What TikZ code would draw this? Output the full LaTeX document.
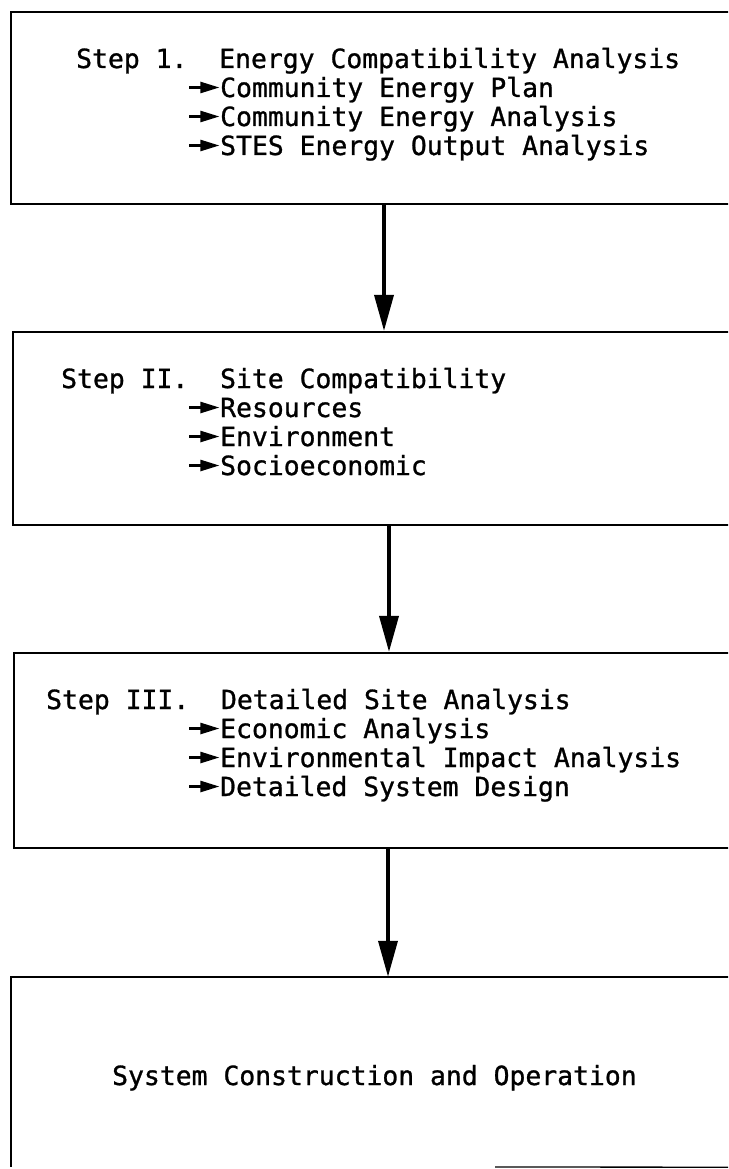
\documentclass[tikz,border=0pt]{standalone}
\usepackage{fontspec}
\newfontfamily\tw[FakeBold=1]{DejaVu Sans Mono}
\usetikzlibrary{arrows.meta}
\newcommand{\bul}{\makebox[32pt][l]{\tikz[baseline=0pt]\draw[line width=2.4pt,-{Triangle[length=19pt,width=11pt]}] (0pt,9.5pt) -- (30pt,9.5pt);}}
\begin{document}
\begin{tikzpicture}[x=1pt,y=-1pt,
  boxline/.style={draw,line width=2.2pt},
  flow/.style={line width=3.6pt,-{Triangle[length=36pt,width=19pt]}},
  txt/.style={anchor=base west,inner sep=0pt,font=\tw\fontsize{26.4}{30}\selectfont}]
\useasboundingbox (0,0) rectangle (728,1169);
\clip (0,0) rectangle (728,1169);
% boxes
\node[boxline,minimum width=731pt,minimum height=192pt,inner sep=0pt] (b1) at (376.5,108) {};
\node[boxline,minimum width=729pt,minimum height=193pt,inner sep=0pt] (b2) at (377.5,428.5) {};
\node[boxline,minimum width=728pt,minimum height=195pt,inner sep=0pt] (b3) at (378,750.5) {};
\node[minimum width=731pt,minimum height=190pt,inner sep=0pt] (b4) at (376.5,1072) {};
\draw[line width=2.2pt] (b4.north east) -- (b4.north west) -- (b4.south west);
\coordinate (e4) at (495,1167);
\draw[line width=1.3pt] (e4) -- (b4.south east);
% box 1 text
\node[txt] (t1) at (76,68) {Step 1.~~Energy Compatibility Analysis};
\node[txt] (t1a) at (188,97) {\bul Community Energy Plan};
\node[txt] (t1b) at (188,126) {\bul Community Energy Analysis};
\node[txt] (t1c) at (188,155) {\bul STES Energy Output Analysis};
% box 2 text
\node[txt] (t2) at (61,388) {Step II.~~Site Compatibility};
\node[txt] (t2a) at (188,417) {\bul Resources};
\node[txt] (t2b) at (188,446) {\bul Environment};
\node[txt] (t2c) at (188,475) {\bul Socioeconomic};
% box 3 text
\node[txt] (t3) at (46,709) {Step III.~~Detailed Site Analysis};
\node[txt] (t3a) at (188,738) {\bul Economic Analysis};
\node[txt] (t3b) at (188,767) {\bul Environmental Impact Analysis};
\node[txt] (t3c) at (188,796) {\bul Detailed System Design};
% box 4 text
\node[txt] (t4) at (112,1085) {System Construction and Operation};
% connectors
\coordinate (c1) at (384,0);
\coordinate (c2) at (389,0);
\coordinate (c3) at (388,0);
\draw[flow] (b1.south -| c1) -- (b2.north -| c1);
\draw[flow] (b2.south -| c2) -- (b3.north -| c2);
\draw[flow] (b3.south -| c3) -- (b4.north -| c3);
\end{tikzpicture}
\end{document}
